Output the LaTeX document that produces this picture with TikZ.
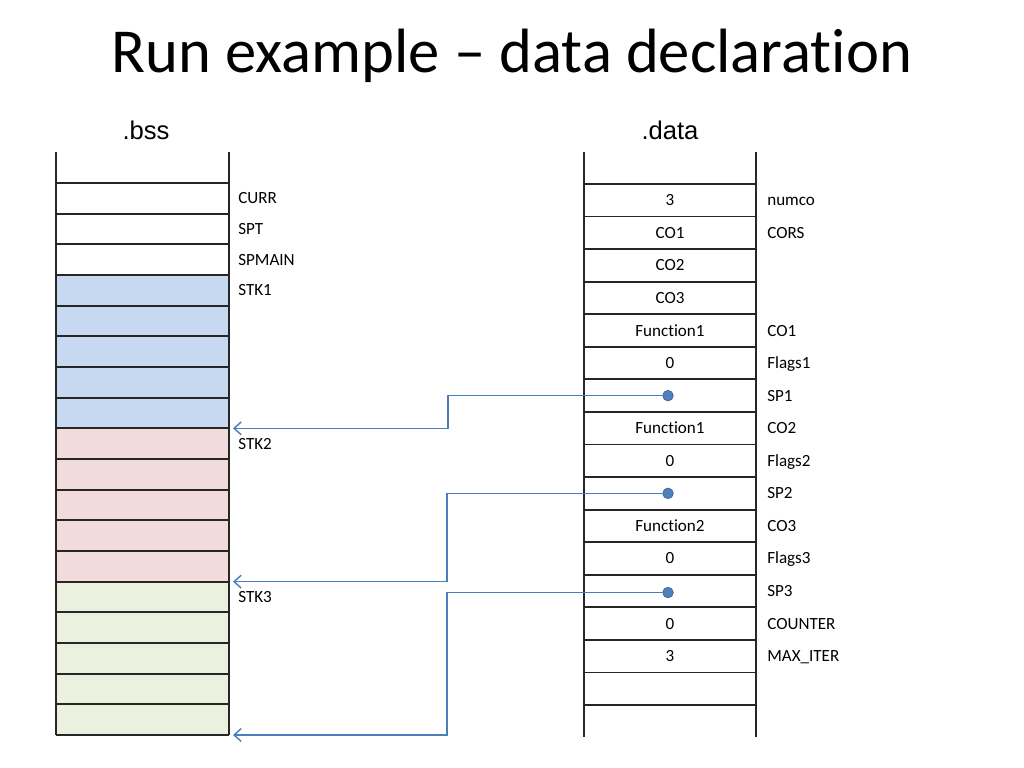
\documentclass[tikz,border=0pt]{standalone}
\usepackage{fontspec}
\setmainfont[Ligatures=NoCommon]{Carlito}
\newfontfamily\arialf{Liberation Sans}
\usetikzlibrary{arrows.meta}
\definecolor{cblue}{HTML}{C6D9F1}
\definecolor{cpink}{HTML}{F2DCDB}
\definecolor{cgreen}{HTML}{EBF1DE}
\definecolor{conn}{HTML}{4A7EBB}
\definecolor{dotf}{HTML}{4F81BD}
\definecolor{dotd}{HTML}{385D8A}
\begin{document}
\begin{tikzpicture}[x=0.703125pt,y=-0.703125pt,
 grid/.style={line width=1.3pt, draw=black!85},
 lab/.style={font=\fontsize{12}{14}\selectfont, inner sep=0pt, anchor=base west},
 val/.style={font=\fontsize{12}{14}\selectfont, inner sep=0pt, anchor=base},
 sec/.style={font=\arialf\fontsize{18}{21}\selectfont, inner sep=0pt, anchor=base},
 dotn/.style={circle, fill=dotf, draw=dotd, line width=0.4pt, minimum size=7.5pt, inner sep=0pt},
 connector/.style={draw=conn, line width=1pt, -{Straight Barb[length=5pt,width=9pt]}}]
\useasboundingbox (0,0) rectangle (1024,768);
\fill[white] (0,0) rectangle (1024,768);
% title
\node[font=\fontsize{44}{53}\selectfont, inner sep=0pt, anchor=base] (title) at (512,73) {Run example – data declaration};
% section labels
\node[sec] (bss) at (146,140) {.bss};
\node[sec] (data) at (670,140) {.data};
% ---- .bss column
\def\bh{30.6667}
\fill[cblue] (56,{183+3*\bh}) rectangle (229,{183+8*\bh});
\fill[cpink] (56,{183+8*\bh}) rectangle (229,{183+13*\bh});
\fill[cgreen] (56,{183+13*\bh}) rectangle (229,{183+18*\bh});
\foreach \k in {0,...,18} \draw[grid] (56,{183+\k*\bh}) -- (229,{183+\k*\bh});
\draw[grid] (56,152) -- (56,{183+18*\bh});
\draw[grid] (229,152) -- (229,{183+18*\bh});
\foreach \k/\t in {0/CURR,1/SPT,2/SPMAIN,3/STK1,8/STK2,13/STK3}
  \node[lab] (b\k) at (238,{183+(\k+0.5)*\bh+5.5}) {\t};
\coordinate (t1) at (233,{183+8*\bh});
\coordinate (t2) at (233,{183+13*\bh});
\coordinate (t3) at (233,{183+18*\bh});
% ---- .data column
\def\dh{32.5625}
\foreach \k in {0,...,16} \draw[grid] (584,{184+\k*\dh}) -- (756,{184+\k*\dh});
\draw[grid] (584,152) -- (584,737);
\draw[grid] (756,152) -- (756,737);
\foreach \k/\t in {0/3,1/CO1,2/CO2,3/CO3,4/Function1,5/0,7/Function1,8/0,10/Function2,11/0,13/0,14/3}
  \node[val] (v\k) at (670,{184+(\k+0.5)*\dh+5.5}) {\t};
\foreach \k/\t in {0/numco,1/CORS,4/CO1,5/Flags1,6/SP1,7/CO2,8/Flags2,9/SP2,10/CO3,11/Flags3,12/SP3,13/COUNTER,14/MAX\_ITER}
  \node[lab] (r\k) at (767,{184+(\k+0.5)*\dh+5.5}) {\t};
% pointer dots
\node[dotn] (d1) at (668,{184+6.5*\dh}) {};
\node[dotn] (d2) at (668,{184+9.5*\dh}) {};
\node[dotn] (d3) at (668,{184+12.5*\dh+1.5}) {};
\coordinate (c1) at (448,0);
\coordinate (c2) at (447,0);
\coordinate (c3) at (447,0);
% connectors
\draw[connector] (d1.west) -- (d1.west -| c1) -- (c1 |- t1) -- (t1);
\draw[connector] (d2.west) -- (d2.west -| c2) -- (c2 |- t2) -- (t2);
\draw[connector] (d3.west) -- (d3.west -| c3) -- (c3 |- t3) -- (t3);
\end{tikzpicture}
\end{document}
